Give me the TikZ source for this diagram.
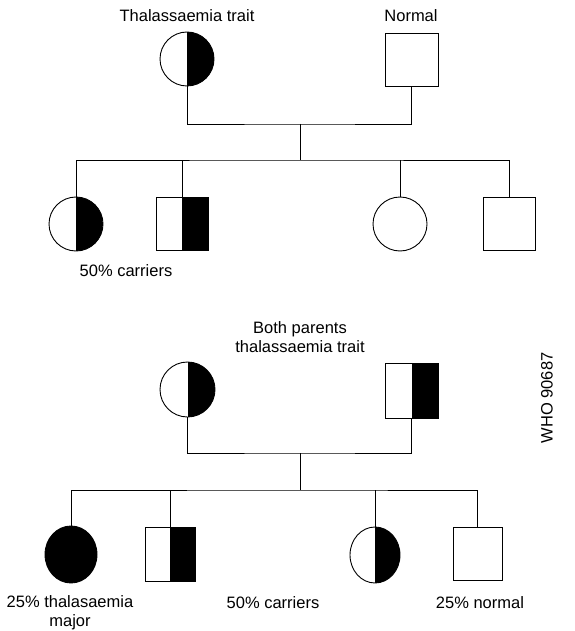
\documentclass[tikz,border=0pt]{standalone}
\usepackage{fontspec}
\setmainfont{Liberation Sans}
\usetikzlibrary{shapes.geometric}
\begin{document}
\begin{tikzpicture}[x=1pt,y=-1pt,
  lbl/.style={font=\fontsize{16.5}{19}\selectfont, inner sep=0pt, align=center},
  fem/.style={ellipse, draw, line width=0.9pt, inner sep=0pt, minimum width=#1, minimum height=54},
  mal/.style={rectangle, draw, line width=0.9pt, inner sep=0pt, minimum width=#1, minimum height=53},
  halfblack/.style={path picture={\fill[black] (path picture bounding box.north) rectangle (path picture bounding box.south east);}},
  fullblack/.style={fill=black},
  conn/.style={line width=0.9pt}]
\useasboundingbox (0,0) rectangle (574,631);

% ---------- top family ----------
\node[lbl] (t1) at (187,16) {Thalassaemia trait};
\node[lbl] (t2) at (411,16) {Normal};
\node[fem=54, halfblack] (m1) at (187,59) {};
\node[mal=53] (f1) at (411.5,59.5) {};
\coordinate (j1) at (300,124);
\coordinate (s1) at (300,160);
\node[fem=54, halfblack] (a1) at (76,224) {};
\node[mal=52, halfblack] (a2) at (182,223.5) {};
\node[fem=54] (a3) at (400,224) {};
\node[mal=52] (a4) at (509,223.5) {};
\node[lbl] (l1) at (126,271) {50\% carriers};
\draw[conn] (m1.south) |- (j1) -| (f1.south);
\draw[conn] (j1) -- (s1);
\draw[conn] (a1.north) |- (s1) -| (a4.north);
\draw[conn] (a2.north) -- (a2.north |- s1);
\draw[conn] (a3.north) -- (a3.north |- s1);

% ---------- bottom family ----------
\node[lbl] (t3) at (300,337) {Both parents\\thalassaemia trait};
\node[fem=55, halfblack, minimum height=55] (m2) at (187.5,389.5) {};
\node[mal=53, halfblack, minimum height=55] (f2) at (411.5,390.5) {};
\coordinate (j2) at (300,453);
\coordinate (s2) at (300,490);
\node[fem=52, fullblack, minimum height=57] (b1) at (71,554.5) {};
\node[mal=50, halfblack, minimum height=54] (b2) at (170,554) {};
\node[fem=50, halfblack, minimum height=56] (b3) at (375,555) {};
\node[mal=49, minimum height=53] (b4) at (477.5,553.5) {};
\node[lbl] (l2) at (70,613) {25\% thalasaemia\\major};
\node[lbl] (l3) at (273,603) {50\% carriers};
\node[lbl] (l4) at (480,603) {25\% normal};
\node[lbl, rotate=90] (who) at (547,398) {WHO 90687};
\draw[conn] (m2.south) |- (j2) -| (f2.south);
\draw[conn] (j2) -- (s2);
\draw[conn] (b1.north) |- (s2) -| (b4.north);
\draw[conn] (b2.north) -- (b2.north |- s2);
\draw[conn] (b3.north) -- (b3.north |- s2);
\end{tikzpicture}
\end{document}
